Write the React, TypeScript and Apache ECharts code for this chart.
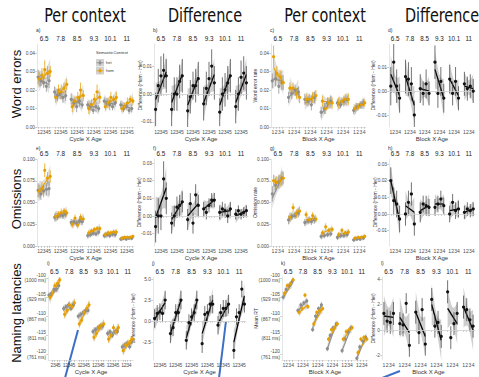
import React, { useEffect, useRef } from "react";
import * as echarts from "echarts";

const AGES = ["6.5", "7.8", "8.5", "9.3", "10.1", "11"];
const CYCLES = ["1", "2", "3", "4", "5"];
const BLOCKS = ["1", "2", "3", "4"];

const tkErr = [0, 0.01, 0.02, 0.03, 0.04];
const tkErrDiff = [-0.01, 0, 0.01];
const tkOm = [0, 0.025, 0.05, 0.075, 0.1];
const tkOmDiff = [-0.01, 0, 0.01, 0.02, 0.03];
const tkRT = [-120, -115, -110, -105, -100];
const tkRTms = ["761 ms", "811 ms", "867 ms", "929 ms", "1000 ms"];
const tkRTDiffCycle = [-2.5, 0, 2.5, 5];
const tkRTDiffBlock = [-2, 0, 2, 4];

// ---- a) Word errors per context, cycle
const aHetPts = [[0.027, 0.025, 0.024, 0.022, 0.025], [0.019, 0.017, 0.018, 0.016, 0.017], [0.015, 0.013, 0.011, 0.014, 0.012], [0.012, 0.011, 0.009, 0.011, 0.010], [0.014, 0.013, 0.012, 0.011, 0.013], [0.012, 0.010, 0.011, 0.009, 0.010]];
const aHetErr = [[0.004, 0.003, 0.003, 0.003, 0.004], [0.003, 0.003, 0.003, 0.003, 0.003], [0.003, 0.002, 0.003, 0.003, 0.002], [0.002, 0.002, 0.002, 0.003, 0.002], [0.002, 0.002, 0.003, 0.002, 0.002], [0.002, 0.002, 0.002, 0.002, 0.002]];
const aHetFit = [[0.026, 0.023], [0.018, 0.016], [0.015, 0.012], [0.012, 0.010], [0.014, 0.012], [0.012, 0.010]];
const aHetBand = [[0.005, 0.002], [0.004, 0.0018], [0.004, 0.0017], [0.0035, 0.0015], [0.0035, 0.0015], [0.003, 0.0013]];
const aHomPts = [[0.026, 0.028, 0.031, 0.029, 0.030], [0.016, 0.020, 0.019, 0.021, 0.023], [0.011, 0.014, 0.016, 0.020, 0.017], [0.010, 0.012, 0.015, 0.019, 0.016], [0.011, 0.013, 0.016, 0.015, 0.016], [0.010, 0.011, 0.013, 0.015, 0.014]];
const aHomErr = [[0.004, 0.004, 0.005, 0.004, 0.003], [0.003, 0.003, 0.004, 0.003, 0.003], [0.003, 0.003, 0.003, 0.004, 0.003], [0.003, 0.003, 0.003, 0.004, 0.003], [0.002, 0.003, 0.003, 0.002, 0.003], [0.002, 0.002, 0.003, 0.002, 0.002]];
const aHomFit = [[0.025, 0.031], [0.016, 0.023], [0.011, 0.018], [0.010, 0.017], [0.012, 0.016], [0.010, 0.015]];
const aHomBand = [[0.006, 0.0025], [0.005, 0.002], [0.005, 0.002], [0.0045, 0.002], [0.004, 0.0018], [0.0035, 0.0015]];

// ---- b) Word errors difference, cycle
const bPts = [[-0.0055, 0.003, 0.0065, 0.0085, 0.0065], [-0.0055, 0.0, 0.0, 0.0045, 0.0065], [-0.006, -0.001, 0.003, 0.003, 0.0055], [-0.0035, 0.002, 0.0055, 0.010, 0.004], [-0.0065, 0.0, 0.0015, 0.004, 0.0065], [-0.0045, 0.0, 0.006, 0.0075, 0.004]];
const bErr = [[0.006, 0.006, 0.007, 0.006, 0.006], [0.006, 0.006, 0.006, 0.006, 0.006], [0.006, 0.006, 0.005, 0.006, 0.006], [0.006, 0.006, 0.006, 0.006, 0.006], [0.005, 0.006, 0.006, 0.006, 0.006], [0.006, 0.006, 0.006, 0.006, 0.006]];
const bFit = [[-0.002, 0.008], [-0.003, 0.007], [-0.004, 0.006], [-0.003, 0.007], [-0.004, 0.007], [-0.003, 0.007]];
const bBand = [[0.006, 0.0025], [0.006, 0.0025], [0.006, 0.0025], [0.006, 0.0025], [0.006, 0.0025], [0.006, 0.0025]];

// ---- c) Word error rate per context, block
const cHetPts = [[0.025, 0.026, 0.022, 0.024], [0.016, 0.018, 0.020, 0.019], [0.015, 0.014, 0.012, 0.016], [0.008, 0.010, 0.013, 0.014], [0.013, 0.012, 0.014, 0.015], [0.009, 0.011, 0.012, 0.013]];
const cHetErr = [[0.004, 0.004, 0.004, 0.004], [0.003, 0.003, 0.003, 0.003], [0.003, 0.003, 0.003, 0.003], [0.003, 0.003, 0.003, 0.003], [0.002, 0.002, 0.003, 0.002], [0.002, 0.002, 0.002, 0.002]];
const cHetFit = [[0.026, 0.025], [0.016, 0.021], [0.013, 0.016], [0.007, 0.014], [0.012, 0.015], [0.009, 0.013]];
const cHetBand = [[0.006, 0.003], [0.005, 0.002], [0.004, 0.002], [0.004, 0.002], [0.004, 0.0018], [0.0035, 0.0015]];
const cHomPts = [[0.038, 0.029, 0.027, 0.024], [0.021, 0.021, 0.018, 0.016], [0.015, 0.015, 0.016, 0.017], [0.014, 0.010, 0.013, 0.013], [0.013, 0.014, 0.015, 0.015], [0.010, 0.011, 0.012, 0.013]];
const cHomErr = [[0.006, 0.004, 0.004, 0.004], [0.003, 0.003, 0.003, 0.003], [0.003, 0.003, 0.003, 0.003], [0.003, 0.003, 0.003, 0.003], [0.003, 0.002, 0.003, 0.003], [0.002, 0.002, 0.002, 0.002]];
const cHomFit = [[0.032, 0.024], [0.022, 0.017], [0.015, 0.016], [0.014, 0.013], [0.013, 0.015], [0.010, 0.013]];
const cHomBand = [[0.007, 0.003], [0.005, 0.002], [0.004, 0.002], [0.004, 0.002], [0.004, 0.0018], [0.0035, 0.0015]];

// ---- d) Word errors difference, block
const dPts = [[0.002, 0.012, 0.002, -0.003], [0.006, 0.005, 0.003, -0.010], [0.001, -0.001, 0.003, -0.001], [0.012, -0.001, 0.004, -0.003], [0.005, -0.001, 0.004, -0.003], [0.003, 0.001, 0.002, 0.0]];
const dErr = [[0.008, 0.008, 0.007, 0.006], [0.007, 0.007, 0.007, 0.006], [0.006, 0.005, 0.006, 0.005], [0.007, 0.006, 0.006, 0.006], [0.006, 0.005, 0.006, 0.005], [0.005, 0.005, 0.005, 0.005]];
const dFit = [[0.007, -0.002], [0.006, -0.006], [0.001, 0.0], [0.009, -0.003], [0.005, -0.002], [0.002, 0.001]];
const dBand = [[0.008, 0.004], [0.008, 0.004], [0.006, 0.003], [0.008, 0.004], [0.007, 0.003], [0.006, 0.003]];

// ---- e) Omissions per context, cycle
const eHetPts = [[0.064, 0.060, 0.063, 0.065, 0.066], [0.033, 0.034, 0.036, 0.035, 0.037], [0.027, 0.028, 0.026, 0.029, 0.028], [0.012, 0.013, 0.015, 0.014, 0.016], [0.012, 0.013, 0.012, 0.014, 0.013], [0.008, 0.009, 0.008, 0.009, 0.009]];
const eHetErr = [[0.008, 0.007, 0.007, 0.007, 0.008], [0.004, 0.004, 0.004, 0.004, 0.004], [0.004, 0.003, 0.004, 0.004, 0.004], [0.003, 0.003, 0.003, 0.003, 0.003], [0.003, 0.003, 0.003, 0.003, 0.003], [0.002, 0.002, 0.002, 0.002, 0.002]];
const eHetFit = [[0.062, 0.066], [0.033, 0.036], [0.026, 0.028], [0.012, 0.015], [0.012, 0.013], [0.008, 0.009]];
const eHetBand = [[0.011, 0.005], [0.006, 0.003], [0.005, 0.0025], [0.004, 0.002], [0.004, 0.002], [0.003, 0.0015]];
const eHomPts = [[0.063, 0.066, 0.087, 0.078, 0.080], [0.034, 0.036, 0.038, 0.040, 0.038], [0.025, 0.032, 0.024, 0.033, 0.031], [0.015, 0.017, 0.019, 0.020, 0.020], [0.013, 0.015, 0.015, 0.016, 0.016], [0.009, 0.010, 0.010, 0.010, 0.011]];
const eHomErr = [[0.007, 0.007, 0.008, 0.007, 0.007], [0.005, 0.004, 0.005, 0.004, 0.004], [0.004, 0.004, 0.004, 0.004, 0.004], [0.003, 0.003, 0.003, 0.003, 0.003], [0.003, 0.003, 0.003, 0.003, 0.003], [0.002, 0.002, 0.002, 0.002, 0.002]];
const eHomFit = [[0.063, 0.081], [0.034, 0.039], [0.025, 0.032], [0.015, 0.021], [0.013, 0.016], [0.009, 0.010]];
const eHomBand = [[0.012, 0.005], [0.007, 0.003], [0.006, 0.003], [0.005, 0.002], [0.004, 0.002], [0.003, 0.0015]];

// ---- f) Omissions difference, cycle
const fPts = [[-0.006, 0.0, 0.0, 0.021, 0.010], [-0.004, 0.0, 0.005, 0.006, 0.008], [-0.002, 0.007, -0.004, 0.012, 0.006], [0.004, 0.002, 0.006, 0.009, 0.009], [0.002, 0.004, 0.003, 0.0, 0.004], [0.001, 0.003, 0.001, 0.002, 0.003]];
const fErr = [[0.009, 0.010, 0.008, 0.010, 0.009], [0.006, 0.006, 0.006, 0.006, 0.006], [0.006, 0.006, 0.006, 0.006, 0.006], [0.004, 0.004, 0.004, 0.004, 0.004], [0.004, 0.004, 0.004, 0.004, 0.004], [0.003, 0.003, 0.003, 0.003, 0.003]];
const fFit = [[-0.001, 0.016], [-0.002, 0.008], [0.0, 0.007], [0.004, 0.009], [0.002, 0.003], [0.0, 0.003]];
const fBand = [[0.012, 0.005], [0.008, 0.0035], [0.008, 0.0035], [0.005, 0.0025], [0.005, 0.002], [0.004, 0.002]];

// ---- g) Omission rate per context, block
const gHetPts = [[0.060, 0.070, 0.074, 0.078], [0.030, 0.034, 0.035, 0.038], [0.027, 0.029, 0.028, 0.030], [0.011, 0.012, 0.013, 0.014], [0.010, 0.012, 0.012, 0.013], [0.007, 0.008, 0.008, 0.009]];
const gHetErr = [[0.009, 0.008, 0.008, 0.008], [0.005, 0.004, 0.004, 0.005], [0.004, 0.004, 0.004, 0.004], [0.003, 0.003, 0.003, 0.003], [0.003, 0.003, 0.003, 0.003], [0.002, 0.002, 0.002, 0.002]];
const gHetFit = [[0.055, 0.080], [0.030, 0.038], [0.027, 0.030], [0.011, 0.014], [0.010, 0.013], [0.007, 0.009]];
const gHetBand = [[0.012, 0.006], [0.006, 0.003], [0.005, 0.0025], [0.004, 0.002], [0.004, 0.002], [0.003, 0.0015]];
const gHomPts = [[0.075, 0.073, 0.075, 0.078], [0.033, 0.044, 0.037, 0.040], [0.036, 0.030, 0.035, 0.031], [0.015, 0.022, 0.018, 0.019], [0.013, 0.018, 0.015, 0.016], [0.009, 0.010, 0.010, 0.011]];
const gHomErr = [[0.007, 0.007, 0.007, 0.007], [0.005, 0.005, 0.005, 0.005], [0.004, 0.004, 0.004, 0.004], [0.003, 0.004, 0.003, 0.003], [0.003, 0.003, 0.003, 0.003], [0.002, 0.002, 0.002, 0.002]];
const gHomFit = [[0.072, 0.078], [0.033, 0.041], [0.030, 0.032], [0.015, 0.020], [0.013, 0.016], [0.009, 0.011]];
const gHomBand = [[0.010, 0.005], [0.006, 0.003], [0.005, 0.0025], [0.004, 0.002], [0.004, 0.002], [0.003, 0.0015]];

// ---- h) Omissions difference, block
const hPts = [[0.020, 0.008, 0.006, -0.003], [0.0, 0.007, 0.012, -0.006], [0.001, 0.006, 0.005, 0.004], [0.004, 0.006, 0.009, 0.005], [0.0, 0.007, 0.002, 0.003], [0.001, 0.003, 0.002, 0.003]];
const hErr = [[0.008, 0.008, 0.008, 0.008], [0.007, 0.007, 0.007, 0.007], [0.006, 0.005, 0.006, 0.005], [0.005, 0.005, 0.005, 0.005], [0.005, 0.005, 0.005, 0.005], [0.004, 0.004, 0.004, 0.004]];
const hFit = [[0.020, -0.004], [0.005, 0.001], [0.002, 0.005], [0.006, 0.006], [0.002, 0.003], [0.001, 0.003]];
const hBand = [[0.009, 0.005], [0.009, 0.004], [0.007, 0.0035], [0.006, 0.003], [0.006, 0.003], [0.005, 0.0025]];

// ---- i) Naming latencies per context, cycle
const iHetPts = [[-104.5, -104, -103, -103, -102], [-108, -107.5, -107, -108, -107], [-110, -109.5, -109, -108.5, -108.5], [-114, -113.5, -113, -112.5, -112.5], [-114.5, -114, -115, -114, -114], [-118, -117.5, -117, -118, -116.5]];
const iHetErr = [[0.7, 0.7, 0.7, 0.7, 0.7], [0.7, 0.7, 0.7, 0.7, 0.7], [0.7, 0.7, 0.7, 0.7, 0.7], [0.7, 0.7, 0.7, 0.7, 0.7], [0.7, 0.7, 0.7, 0.7, 0.7], [0.7, 0.7, 0.7, 0.7, 0.7]];
const iHetFit = [[-105, -102.5], [-108, -107], [-110, -108.5], [-114, -112.5], [-114.5, -114], [-118, -117]];
const iHetBand = [[1.2, 0.5], [1.2, 0.5], [1.2, 0.5], [1.2, 0.5], [1.2, 0.5], [1.2, 0.5]];
const iHomPts = [[-105, -104, -102, -101.5, -100.5], [-109.5, -108.5, -107, -107.5, -106.5], [-112, -111, -109, -108, -107], [-115.5, -114.5, -113, -112.5, -112], [-116, -115, -113, -114, -113], [-119, -117.5, -117, -116.5, -116]];
const iHomErr = [[0.9, 0.9, 0.9, 0.9, 0.9], [0.9, 0.9, 0.9, 0.9, 0.9], [0.9, 0.9, 0.9, 0.9, 0.9], [0.9, 0.9, 0.9, 0.9, 0.9], [0.9, 0.9, 0.9, 0.9, 0.9], [0.9, 0.9, 0.9, 0.9, 0.9]];
const iHomFit = [[-105.5, -100.5], [-109.5, -106.5], [-112, -107], [-115.5, -112], [-116, -113], [-119, -116]];
const iHomBand = [[1.4, 0.6], [1.4, 0.6], [1.4, 0.6], [1.4, 0.6], [1.4, 0.6], [1.4, 0.6]];

// ---- j) Naming latencies difference, cycle
const jPts = [[0.3, 0.9, 1.1, 0.9, 2.5], [-1.5, -0.8, 1.0, 1.0, 2.5], [-2.3, -0.2, 0.5, 1.0, 2.5], [-2.7, 0.8, 1.0, 2.0, 2.0], [-0.5, 1.0, 1.5, 1.5, 2.0], [-3.5, 0.5, 1.0, 3.8, 2.0]];
const jErr = [[1.1, 1.0, 1.0, 1.0, 1.1], [1.1, 1.0, 1.0, 1.0, 1.1], [1.1, 1.0, 1.0, 1.0, 1.1], [1.1, 1.0, 1.0, 1.0, 1.1], [1.1, 1.0, 1.0, 1.0, 1.1], [1.0, 1.0, 1.0, 1.0, 1.0]];
const jFit = [[0.2, 2.2], [-1.5, 2.5], [-2.0, 2.3], [-1.5, 2.5], [-0.3, 2.0], [-2.5, 3.0]];
const jBand = [[1.4, 0.6], [1.4, 0.6], [1.4, 0.6], [1.4, 0.6], [1.4, 0.6], [1.5, 0.6]];

// ---- k) Mean RT per context, block
const kHetPts = [[-105, -103, -102, -101], [-108.5, -107, -106.5, -106], [-113.5, -110, -108, -107], [-118.5, -115, -113, -112], [-119, -116, -114, -113], [-121, -118, -116.5, -115.5]];
const kHetErr = [[0.6, 0.6, 0.6, 0.6], [0.6, 0.6, 0.6, 0.6], [0.6, 0.6, 0.6, 0.6], [0.6, 0.6, 0.6, 0.6], [0.6, 0.6, 0.6, 0.6], [0.5, 0.6, 0.6, 0.6]];
const kHetFit = [[-105, -101.5], [-108.5, -106], [-113, -107], [-118.5, -112], [-119, -113], [-121, -115.5]];
const kHetBand = [[1.2, 0.5], [1.2, 0.5], [1.2, 0.5], [1.2, 0.5], [1.2, 0.5], [1.2, 0.5]];
const kHomPts = [[-104, -102, -101.5, -100.5], [-109, -108, -104.5, -107.5], [-112, -109, -108.5, -108], [-116, -113.5, -113, -112], [-116, -114, -113.5, -113], [-119.5, -116, -115.5, -116]];
const kHomErr = [[0.6, 0.6, 0.6, 0.6], [0.6, 0.6, 0.6, 0.6], [0.6, 0.6, 0.6, 0.6], [0.6, 0.6, 0.6, 0.6], [0.6, 0.6, 0.6, 0.6], [0.6, 0.6, 0.6, 0.6]];
const kHomFit = [[-104.5, -100.5], [-109, -107], [-112, -108], [-116, -112], [-116, -113], [-119.5, -115.5]];
const kHomBand = [[1.2, 0.5], [1.2, 0.5], [1.2, 0.5], [1.2, 0.5], [1.2, 0.5], [1.2, 0.5]];

// ---- l) Naming latencies difference, block
const lPts = [[1.3, 0.7, 0.6, 1.3], [0.5, 0.4, 2.1, -1.2], [1.4, -0.2, 1.6, -1.1], [2.4, 0.3, 0.6, -0.5], [3.0, -0.6, 0.5, 1.3], [1.8, 1.6, 0.8, 0.3]];
const lErr = [[0.9, 0.9, 0.9, 0.9], [0.9, 0.9, 0.8, 0.9], [0.9, 0.9, 0.9, 0.9], [0.9, 0.9, 0.9, 0.9], [0.9, 0.9, 0.9, 0.9], [0.9, 0.9, 0.9, 0.9]];
const lFit = [[1.1, 1.0], [1.0, -0.2], [1.4, -0.5], [2.0, -0.8], [1.7, 0.5], [1.8, 0.0]];
const lBand = [[1.6, 0.7], [1.6, 0.7], [1.6, 0.7], [1.6, 0.7], [1.6, 0.7], [1.6, 0.7]];

const HET = "#8e8e8e";
const HOM = "#E69F00";
const FONT = "Liberation Sans, Arial, sans-serif";

type S = { pts: number[][]; err: number[][]; fit: number[][]; band: number[][] };
const mk = (pts: number[][], err: number[][], fit: number[][], band: number[][]): S => ({ pts, err, fit, band });

function addPanel(opt: any, p: any) {
  const g = p.geo;
  const n = g.block ? 4 : 5;
  const unit = n + 1;
  const labels = g.block ? BLOCKS : CYCLES;
  const positions: number[] = [];
  const centers: number[] = [];
  AGES.forEach((_, f) => {
    centers.push(f * unit + (n + 1) / 2);
    labels.forEach((_, c) => positions.push(f * unit + c + 1));
  });
  const xMin = 0.4;
  const xMax = unit * AGES.length - 0.4;
  const gi = opt.grid.length;
  opt.grid.push({ left: g.left, top: g.top, width: g.width, height: g.height, containLabel: false, outerBoundsMode: "none" });
  const xb = opt.xAxis.length;
  opt.xAxis.push({
    type: "value", gridIndex: gi, position: "bottom", min: xMin, max: xMax,
    axisLine: { show: true, lineStyle: { color: "#d4d4d4", width: 0.6 } },
    axisTick: { show: true, length: 1.8, customValues: positions, lineStyle: { color: "#999", width: 0.5 } },
    axisLabel: { customValues: positions, formatter: (v: number) => labels[Math.round(v) % unit - 1] ?? "", fontSize: 5, color: "#4d4d4d", margin: 2, fontFamily: FONT },
    splitLine: { show: false },
    name: g.xName, nameLocation: "middle", nameGap: 8.5, nameMoveOverlap: false,
    nameTextStyle: { fontSize: 6, color: "#333", fontFamily: FONT },
  });
  opt.xAxis.push({
    type: "value", gridIndex: gi, position: "top", min: xMin, max: xMax,
    axisLine: { show: false }, axisTick: { show: false }, splitLine: { show: false },
    axisLabel: { customValues: centers, formatter: (v: number) => AGES[Math.floor(v / unit)] ?? "", fontSize: 6.3, color: "#222", margin: 2.5, fontFamily: FONT },
  });
  const yi = opt.yAxis.length;
  opt.yAxis.push({
    type: "value", gridIndex: gi, min: g.yMin, max: g.yMax,
    axisLine: { show: true, lineStyle: { color: "#d4d4d4", width: 0.6 } },
    axisTick: { show: true, length: 1.8, customValues: g.ticks, lineStyle: { color: "#999", width: 0.5 } },
    axisLabel: { customValues: g.ticks, formatter: g.fmt, fontSize: 4.8, color: "#4d4d4d", margin: 2, lineHeight: 5.6, fontFamily: FONT },
    splitLine: { show: false },
    name: g.yName, nameLocation: "middle", nameGap: g.yGap, nameRotate: 90, nameMoveOverlap: false,
    nameTextStyle: { fontSize: 5, color: "#333", fontFamily: FONT },
  });

  p.series.forEach((it: any, si: number) => {
    const s: S = it.s;
    const kind = it.kind;
    const dx = kind === "het" ? -0.2 : kind === "hom" ? 0.2 : 0;
    const col = kind === "het" ? HET : kind === "hom" ? HOM : "#111";
    const bandFill = kind === "diff" ? "rgba(120,120,120,0.36)" : "rgba(140,140,140,0.28)";
    const ribbon = s.fit.map((f, fi) => [fi * unit + 1 + dx, fi * unit + n + dx, f[0], f[1], s.band[fi][0], s.band[fi][1]]);
    const errs: number[][] = [];
    const pts: number[][] = [];
    s.pts.forEach((row, fi) => row.forEach((v, c) => {
      const x = fi * unit + c + 1 + dx;
      errs.push([x, v - s.err[fi][c], v + s.err[fi][c]]);
      pts.push([x, v]);
    }));
    const base = { coordinateSystem: "cartesian2d", xAxisIndex: xb, yAxisIndex: yi, silent: true, clip: true };
    const rib: any = {
      ...base, type: "custom", z: 1, data: ribbon,
      renderItem: (_: any, api: any) => {
        const xs = api.value(0), xe = api.value(1), fs = api.value(2), fe = api.value(3), he = api.value(4), hm = api.value(5);
        const up: number[][] = [];
        const lo: number[][] = [];
        for (let k = 0; k <= 12; k++) {
          const t = k / 12;
          const x = xs + (xe - xs) * t;
          const fv = fs + (fe - fs) * t;
          const u = 2 * t - 1;
          const h = Math.sqrt(hm * hm + (he * he - hm * hm) * u * u);
          up.push(api.coord([x, fv + h]));
          lo.push(api.coord([x, fv - h]));
        }
        return { type: "polygon", shape: { points: up.concat(lo.reverse()) }, style: { fill: bandFill, stroke: "none" } };
      },
    };
    if (p.zero && si === 0) {
      rib.markLine = { silent: true, symbol: ["none", "none"], label: { show: false }, lineStyle: { color: "#d6d6d6", width: 0.8, type: "solid" }, data: [{ yAxis: 0 }] };
    }
    opt.series.push(rib);
    opt.series.push({
      ...base, type: "custom", z: 3, data: ribbon,
      renderItem: (_: any, api: any) => {
        const a = api.coord([api.value(0), api.value(2)]);
        const b = api.coord([api.value(1), api.value(3)]);
        return { type: "line", shape: { x1: a[0], y1: a[1], x2: b[0], y2: b[1] }, style: { stroke: kind === "diff" ? "#000" : col, lineWidth: kind === "diff" ? 1.3 : 1.1 } };
      },
    });
    opt.series.push({
      ...base, type: "custom", z: 4, data: errs,
      renderItem: (_: any, api: any) => {
        const a = api.coord([api.value(0), api.value(1)]);
        const b = api.coord([api.value(0), api.value(2)]);
        return { type: "line", shape: { x1: a[0], y1: a[1], x2: b[0], y2: b[1] }, style: { stroke: kind === "diff" ? "#444" : col, lineWidth: 0.75 } };
      },
    });
    opt.series.push({
      ...base, type: "scatter", z: 5, data: pts, symbol: "circle", symbolSize: 3.2,
      itemStyle: { color: col, opacity: 1 },
    });
  });
}

function buildOption() {
  const opt: any = { animation: false, backgroundColor: "#ffffff", grid: [], xAxis: [], yAxis: [], series: [], graphic: [] };
  const f2 = (v: number) => v.toFixed(2);
  const f3 = (v: number) => v.toFixed(3);
  const f1 = (v: number) => v.toFixed(1);
  const f0 = (v: number) => v.toFixed(0);
  const rt = (v: number) => {
    let bi = 0;
    tkRT.forEach((t, i) => { if (Math.abs(t - v) < Math.abs(tkRT[bi] - v)) bi = i; });
    return `${tkRT[bi]}\n(${tkRTms[bi]})`;
  };
  const cyc = "Cycle X Age";
  const blk = "Block X Age";
  const diffName = "Difference (Hom - Het)";
  const panels = [
    { geo: { left: 37, top: 44, width: 97, height: 83, yMin: 0, yMax: 0.0449, ticks: tkErr, fmt: f2, block: false, yName: "", yGap: 0, xName: cyc },
      series: [{ s: mk(aHetPts, aHetErr, aHetFit, aHetBand), kind: "het" }, { s: mk(aHomPts, aHomErr, aHomFit, aHomBand), kind: "hom" }] },
    { geo: { left: 154, top: 44, width: 94, height: 83, yMin: -0.0118, yMax: 0.0179, ticks: tkErrDiff, fmt: f2, block: false, yName: diffName, yGap: 11.5, xName: cyc },
      series: [{ s: mk(bPts, bErr, bFit, bBand), kind: "diff" }], zero: true },
    { geo: { left: 271, top: 44, width: 95, height: 83, yMin: 0, yMax: 0.0449, ticks: tkErr, fmt: f2, block: true, yName: "Word error rate", yGap: 13.5, xName: blk },
      series: [{ s: mk(cHetPts, cHetErr, cHetFit, cHetBand), kind: "het" }, { s: mk(cHomPts, cHomErr, cHomFit, cHomBand), kind: "hom" }] },
    { geo: { left: 389, top: 44, width: 86, height: 83, yMin: -0.015, yMax: 0.0196, ticks: tkErrDiff, fmt: f2, block: true, yName: diffName, yGap: 14, xName: blk },
      series: [{ s: mk(dPts, dErr, dFit, dBand), kind: "diff" }], zero: true },
    { geo: { left: 37, top: 159, width: 97, height: 87, yMin: 0, yMax: 0.1, ticks: tkOm, fmt: f3, block: false, yName: "", yGap: 0, xName: cyc },
      series: [{ s: mk(eHetPts, eHetErr, eHetFit, eHetBand), kind: "het" }, { s: mk(eHomPts, eHomErr, eHomFit, eHomBand), kind: "hom" }] },
    { geo: { left: 154, top: 159, width: 94, height: 87, yMin: -0.017, yMax: 0.0323, ticks: tkOmDiff, fmt: f2, block: false, yName: diffName, yGap: 13, xName: cyc },
      series: [{ s: mk(fPts, fErr, fFit, fBand), kind: "diff" }], zero: true },
    { geo: { left: 271, top: 159, width: 95, height: 87, yMin: 0, yMax: 0.1, ticks: tkOm, fmt: f3, block: true, yName: "Omission rate", yGap: 13.5, xName: blk },
      series: [{ s: mk(gHetPts, gHetErr, gHetFit, gHetBand), kind: "het" }, { s: mk(gHomPts, gHomErr, gHomFit, gHomBand), kind: "hom" }] },
    { geo: { left: 389, top: 159, width: 86, height: 87, yMin: -0.0192, yMax: 0.033, ticks: tkOmDiff, fmt: f2, block: true, yName: diffName, yGap: 11.5, xName: blk },
      series: [{ s: mk(hPts, hErr, hFit, hBand), kind: "diff" }], zero: true },
    { geo: { left: 48, top: 277, width: 86, height: 83, yMin: -121.44, yMax: -99.74, ticks: tkRT, fmt: rt, block: false, yName: "", yGap: 0, xName: cyc },
      series: [{ s: mk(iHetPts, iHetErr, iHetFit, iHetBand), kind: "het" }, { s: mk(iHomPts, iHomErr, iHomFit, iHomBand), kind: "hom" }] },
    { geo: { left: 153, top: 277, width: 93, height: 83, yMin: -4.64, yMax: 5.24, ticks: tkRTDiffCycle, fmt: f1, block: false, yName: diffName, yGap: 18, xName: cyc },
      series: [{ s: mk(jPts, jErr, jFit, jBand), kind: "diff" }], zero: true },
    { geo: { left: 282, top: 277, width: 86, height: 83, yMin: -121.44, yMax: -99.74, ticks: tkRT, fmt: rt, block: true, yName: "Mean RT", yGap: 24, xName: blk },
      series: [{ s: mk(kHetPts, kHetErr, kHetFit, kHetBand), kind: "het" }, { s: mk(kHomPts, kHomErr, kHomFit, kHomBand), kind: "hom" }] },
    { geo: { left: 382, top: 277, width: 93, height: 83, yMin: -2.35, yMax: 4.16, ticks: tkRTDiffBlock, fmt: f0, block: true, yName: diffName, yGap: 7, xName: blk },
      series: [{ s: mk(lPts, lErr, lFit, lBand), kind: "diff" }], zero: true },
  ];
  panels.forEach((p) => addPanel(opt, p));

  const txt = (x: number, y: number, text: string, fontSize: number, extra: any = {}) => ({
    type: "text", x, y, rotation: extra.rotation ?? 0, scaleX: extra.scaleX ?? 1, silent: true,
    style: {
      text, fontSize, fill: extra.fill ?? "#222", fontFamily: extra.font ?? FONT,
      align: extra.align ?? "left", verticalAlign: "middle",
      textAlign: extra.align ?? "left", textVerticalAlign: "middle",
    },
  });
  const HEAD = "Liberation Sans Narrow, DejaVu Sans Condensed, sans-serif";
  const hd = { align: "center", font: HEAD, fill: "#111", scaleX: 0.8 };
  opt.graphic.push(txt(85, 15, "Per context", 20, hd));
  opt.graphic.push(txt(205, 15, "Difference", 20, hd));
  opt.graphic.push(txt(325, 15, "Per context", 20, hd));
  opt.graphic.push(txt(442, 15, "Difference", 20, hd));
  opt.graphic.push(txt(16, 84, "Word errors", 13, { align: "center", rotation: Math.PI / 2, fill: "#111" }));
  opt.graphic.push(txt(16, 199, "Omissions", 13, { align: "center", rotation: Math.PI / 2, fill: "#111" }));
  opt.graphic.push(txt(16, 313, "Naming latencies", 13, { align: "center", rotation: Math.PI / 2, fill: "#111" }));
  const letters: [string, number, number][] = [
    ["a)", 36, 30], ["b)", 153, 30], ["c)", 270, 30], ["d)", 388, 30],
    ["e)", 36, 148], ["f)", 153, 148], ["g)", 270, 148], ["h)", 388, 148],
    ["i)", 47, 263], ["j)", 152, 263], ["k)", 281, 263], ["l)", 381, 263],
  ];
  letters.forEach(([t, x, y]) => opt.graphic.push(txt(x, y, t, 5, { fill: "#333" })));
  // legend in panel a
  opt.graphic.push(txt(96, 52, "SemanticContext", 4.2, { fill: "#333" }));
  [["het", HET, 59], ["hom", HOM, 67]].forEach(([label, c, y]: any) => {
    opt.graphic.push({ type: "rect", silent: true, shape: { x: 96, y, width: 8, height: 7.5 }, style: { fill: "#d2d2d2" } });
    opt.graphic.push({ type: "line", silent: true, shape: { x1: 100, y1: y + 1, x2: 100, y2: y + 6.5 }, style: { stroke: c, lineWidth: 0.8 } });
    opt.graphic.push({ type: "line", silent: true, shape: { x1: 96.5, y1: y + 3.75, x2: 103.5, y2: y + 3.75 }, style: { stroke: c, lineWidth: 0.8 } });
    opt.graphic.push({ type: "circle", silent: true, shape: { cx: 100, cy: y + 3.75, r: 1.5 }, style: { fill: c } });
    opt.graphic.push(txt(106, y + 3.75, label, 4, { fill: "#333" }));
  });
  // blue annotation strokes
  const BLUE = "#3d6fc4";
  opt.graphic.push({ type: "line", silent: true, shape: { x1: 78, y1: 330, x2: 65, y2: 378 }, style: { stroke: BLUE, lineWidth: 2 } });
  opt.graphic.push({ type: "line", silent: true, shape: { x1: 226, y1: 321, x2: 219, y2: 378 }, style: { stroke: BLUE, lineWidth: 2 } });
  opt.graphic.push({ type: "line", silent: true, shape: { x1: 382, y1: 378, x2: 400, y2: 371 }, style: { stroke: BLUE, lineWidth: 2 } });
  return opt;
}

export default function App() {
  const ref = useRef<HTMLDivElement>(null);
  useEffect(() => {
    if (!ref.current) return;
    const chart = echarts.init(ref.current, null, { renderer: "svg" });
    chart.setOption(buildOption());
    return () => chart.dispose();
  }, []);
  return <div ref={ref} style={{ position: "fixed", left: 0, top: 0, width: 479, height: 377, background: "#fff" }} />;
}
